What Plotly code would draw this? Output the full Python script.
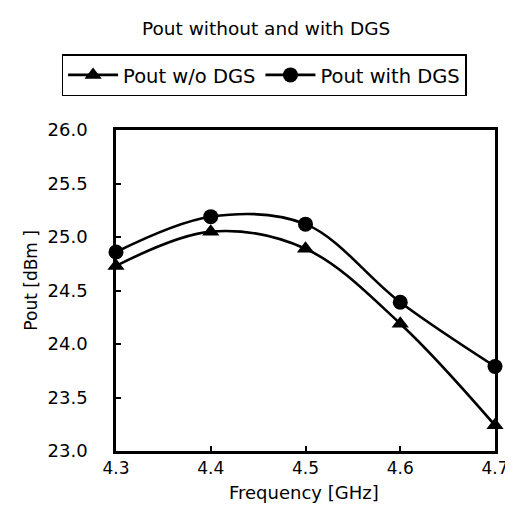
import plotly.graph_objects as go

freq = [4.3, 4.4, 4.5, 4.6, 4.7]
pout_wo_dgs = [24.73, 25.05, 24.89, 24.19, 23.24]
pout_with_dgs = [24.86, 25.19, 25.12, 24.39, 23.79]

FONT = "DejaVu Sans"
fig = go.Figure()
fig.add_trace(go.Scatter(
    x=freq, y=pout_wo_dgs, name="Pout w/o DGS", mode="lines+markers",
    line=dict(color="black", width=2.6, shape="spline", smoothing=1.0),
    marker=dict(symbol="triangle-up", size=15, color="black"),
    cliponaxis=False))
fig.add_trace(go.Scatter(
    x=freq, y=pout_with_dgs, name="Pout with DGS", mode="lines+markers",
    line=dict(color="black", width=2.6, shape="spline", smoothing=1.0),
    marker=dict(symbol="circle", size=15, color="black"),
    cliponaxis=False))

axis_common = dict(showline=True, linecolor="black", linewidth=2.5, mirror=True,
                   ticks="inside", ticklen=5, tickwidth=1.5, tickcolor="black",
                   showgrid=False, zeroline=False)
fig.update_xaxes(range=[4.3, 4.7], tickvals=freq, tickformat=".1f",
                 ticklabelstandoff=0,
                 tickfont=dict(family=FONT, size=17, color="black"), **axis_common)
fig.update_yaxes(range=[23.0, 26.0], dtick=0.5, tick0=23.0, tickformat=".1f",
                 ticklabelstandoff=22,
                 tickfont=dict(family=FONT, size=18, color="black"), **axis_common)

fig.update_layout(
    width=513, height=516,
    margin=dict(l=108, r=15, t=122, b=73),
    plot_bgcolor="white", paper_bgcolor="white",
    font=dict(family=FONT, color="black"),
    showlegend=True,
    legend=dict(orientation="h", x=-0.1436, xanchor="left", y=1.236, yanchor="top",
                bordercolor="black", borderwidth=1.5, bgcolor="white",
                font=dict(family=FONT, size=19.5, color="black"),
                itemwidth=50, tracegroupgap=0),
    annotations=[
        dict(text="Pout without and with DGS", xref="paper", yref="paper",
             x=0.395, y=1.316, xanchor="center", yanchor="middle", showarrow=False,
             font=dict(family=FONT, size=18.5, color="black")),
        dict(text="Frequency [GHz]", xref="paper", yref="paper",
             x=0.497, y=-0.13, xanchor="center", yanchor="middle", showarrow=False,
             font=dict(family=FONT, size=18, color="black")),
        dict(text="Pout [dBm ]", xref="paper", yref="paper",
             x=-0.225, y=0.533, xanchor="center", yanchor="middle", showarrow=False,
             textangle=-90, font=dict(family=FONT, size=17, color="black")),
    ],
)

fig.write_html("out.html")
